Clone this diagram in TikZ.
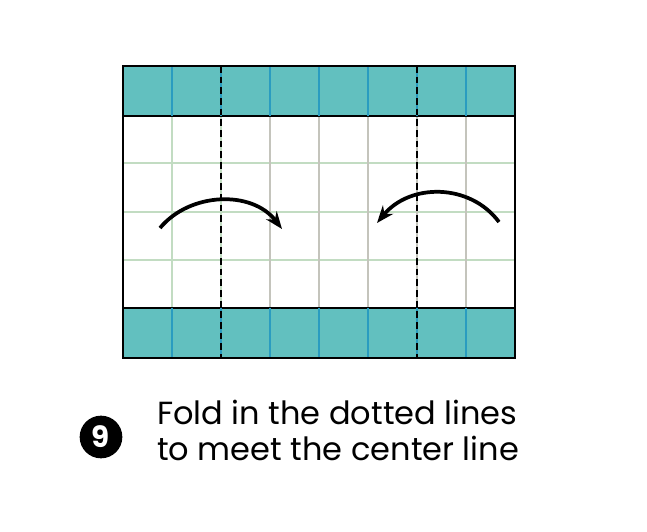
\documentclass[tikz,border=0pt]{standalone}
\usepackage{fontspec}
\setmainfont{Poppins}
\usetikzlibrary{arrows.meta,positioning}
\definecolor{FoldTeal}{HTML}{62C0BF}
\definecolor{FoldBlue}{HTML}{2A9CC0}
\definecolor{FoldGreen}{HTML}{C2DCC2}
\definecolor{FoldGrey}{HTML}{C4C4BC}
\tikzset{
    % Coloured strips at top and bottom
    flap/.style={
        fill=FoldTeal,
        draw=black,
        line width=1.4pt
    },
    flap line/.style={
        FoldBlue,
        line width=1pt
    },
    grid green/.style={
        FoldGreen,
        line width=1pt
    },
    grid grey/.style={
        FoldGrey,
        line width=1pt
    },
    fold line/.style={
        black,
        line width=1.1pt,
        dash pattern=on 5pt off 3pt
    },
    fold arrow/.style={
        -{Stealth[length=13pt,width=10pt]},
        line width=2.8pt,
        color=black
    },
    step number/.style={
        circle,
        fill=black,
        text=white,
        minimum size=32pt,
        inner sep=0pt,
        font=\fontsize{22}{22}\bfseries
    },
    caption/.style={
        anchor=base west,
        align=left,
        inner sep=0pt,
        font=\fontsize{24}{26.3}\selectfont
    }
}

\begin{document}
\begin{tikzpicture}[x=0.75pt, y=-0.75pt]
    \useasboundingbox (0,0) rectangle (647,532);

    % White paper with grid
    \fill[white] (123,116) rectangle (515,308);
    \foreach \y in {163,212,260}
        \draw[grid green] (123,\y) -- (515,\y);
    \foreach \x in {172,221}
        \draw[grid green] (\x,116) -- (\x,308);
    \foreach \x in {270,319,368,417,466}
        \draw[grid grey] (\x,116) -- (\x,308);

    % Teal strips
    \draw[flap] (123,66) rectangle (515,116);
    \draw[flap] (123,308) rectangle (515,358);
    \foreach \x in {172,221,270,319,368,417,466} {
        \draw[flap line] (\x,66) -- (\x,116);
        \draw[flap line] (\x,308) -- (\x,358);
    }

    % Outline
    \draw[black, line width=1.4pt] (123,66) rectangle (515,358);

    % Fold lines
    \draw[fold line] (221,66) -- (221,358);
    \draw[fold line] (417,66) -- (417,358);

    % Arrows
    \coordinate (left start) at (160,228);
    \coordinate (left end) at (282,229);
    \coordinate (right start) at (499,222);
    \coordinate (right end) at (377,223);
    \draw[fold arrow] (left start) .. controls (190,192) and (252,190) .. (left end);
    \draw[fold arrow] (right start) .. controls (470,183) and (410,183) .. (right end);

    % Step label
    \node[step number] (num) at (101,437) {9};
    \node[caption] (text) at (157,460) {Fold in the dotted lines\\to meet the center line};
\end{tikzpicture}
\end{document}
